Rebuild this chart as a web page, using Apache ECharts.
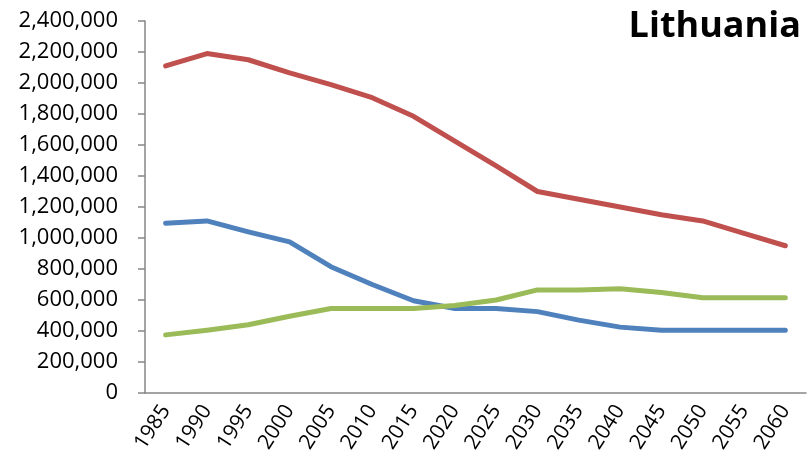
<!DOCTYPE html>
<html>
<head>
<meta charset="utf-8">
<script src="https://cdn.jsdelivr.net/npm/echarts@6/dist/echarts.min.js"></script>
<style>
  html, body { margin: 0; padding: 0; background: #fff; }
  #chart { width: 810px; height: 469px; }
</style>
</head>
<body>
<div id="chart"></div>
<script>
const years = ['1985', '1990', '1995', '2000', '2005', '2010', '2015', '2020',
  '2025', '2030', '2035', '2040', '2045', '2050', '2055', '2060'];

const blueValues = [1095000, 1110000, 1040000, 975000, 815000, 700000, 595000, 545000,
  545000, 525000, 470000, 425000, 405000, 405000, 405000, 405000];
const redValues = [2110000, 2190000, 2150000, 2065000, 1990000, 1905000, 1785000, 1625000,
  1465000, 1300000, 1250000, 1200000, 1150000, 1110000, 1030000, 950000];
const greenValues = [375000, 405000, 440000, 495000, 545000, 545000, 545000, 565000,
  600000, 665000, 665000, 672000, 648000, 615000, 615000, 615000];

const chart = echarts.init(document.getElementById('chart'));

const axisGray = '#868686';
const font = '"Open Sans", sans-serif';

const lineSeries = (data, color) => ({
  type: 'line',
  data: data,
  symbol: 'none',
  lineStyle: { color: color, width: 5, cap: 'round', join: 'round' },
  itemStyle: { color: color }
});

chart.setOption({
  animation: false,
  title: {
    text: 'Lithuania',
    right: 4,
    top: 4,
    textStyle: { fontFamily: font, fontWeight: 'bold', fontSize: 36, color: '#000' }
  },
  grid: { left: 145, right: 4, top: 21, bottom: 76 },
  xAxis: {
    type: 'category',
    data: years,
    boundaryGap: true,
    axisLine: { lineStyle: { color: axisGray, width: 1.5 } },
    axisTick: { length: 7, alignWithLabel: false, lineStyle: { color: axisGray, width: 1.5 } },
    axisLabel: {
      rotate: 57,
      margin: 14,
      interval: 0,
      fontFamily: font,
      fontSize: 21,
      color: '#000'
    },
    splitLine: { show: false }
  },
  yAxis: {
    type: 'value',
    min: 0,
    max: 2400000,
    interval: 200000,
    axisLine: { show: true, lineStyle: { color: axisGray, width: 1.5 } },
    axisTick: { show: true, length: 7, lineStyle: { color: axisGray, width: 1.5 } },
    axisLabel: {
      margin: 27,
      fontFamily: font,
      fontSize: 22,
      color: '#000',
      formatter: v => v.toLocaleString('en-US')
    },
    splitLine: { show: false }
  },
  series: [
    lineSeries(blueValues, '#4F81BD'),
    lineSeries(redValues, '#C0504D'),
    lineSeries(greenValues, '#9BBB59')
  ]
});
</script>
</body>
</html>
